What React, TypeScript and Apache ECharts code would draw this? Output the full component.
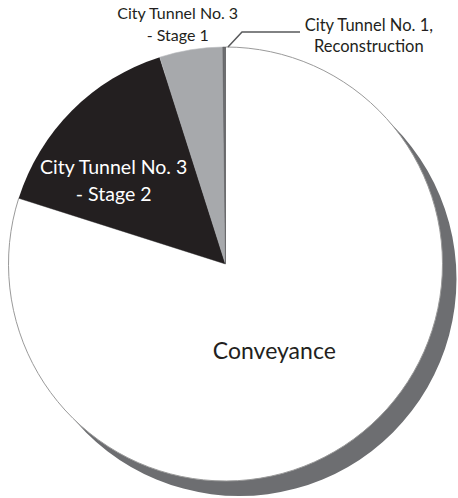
import React, { useEffect, useRef } from "react";
import * as echarts from "echarts";

const categories = [
  "Conveyance",
  "City Tunnel No. 3 - Stage 2",
  "City Tunnel No. 3 - Stage 1",
  "City Tunnel No. 1, Reconstruction",
];
const labelTexts = [
  "Conveyance",
  "City Tunnel No. 3\n- Stage 2",
  "City Tunnel No. 3\n- Stage 1",
  "City Tunnel No. 1,\nReconstruction",
];
const values = [79.9, 15.2, 4.7, 0.2];
const colors = ["#ffffff", "#231f20", "#a7a9ac", "#6d6e71"];

const FONT = "Lato, 'Open Sans', sans-serif";

export default function App() {
  const ref = useRef<HTMLDivElement>(null);
  useEffect(() => {
    if (!ref.current) return;
    const chart = echarts.init(ref.current, null, { renderer: "svg" });
    const cx = 225.5;
    const cy = 264;
    const r = 217;
    const labelCfg = [
      { offset: [-17, -4], color: "#231f20", fontSize: 23, lineHeight: 28 },
      { offset: [-33, -5], color: "#ffffff", fontSize: 19.5, lineHeight: 27 },
      { offset: [-30, -130], color: "#231f20", fontSize: 16, lineHeight: 22 },
      { offset: [144, -117], color: "#231f20", fontSize: 16.5, lineHeight: 21 },
    ];
    const borders = [
      { borderColor: "#9a9a9a", borderWidth: 1 },
      { borderColor: "#231f20", borderWidth: 0 },
      { borderColor: "#b8babd", borderWidth: 0.6 },
      { borderColor: "#58595b", borderWidth: 0.5 },
    ];
    chart.setOption({
      animation: false,
      backgroundColor: "#ffffff",
      series: [
        {
          type: "pie",
          silent: true,
          center: [cx + 14, cy + 15],
          radius: r,
          startAngle: 90,
          label: { show: false },
          labelLine: { show: false },
          data: [{ value: 1, name: "shadow", itemStyle: { color: "#6d6e71" } }],
          z: 1,
        },
        {
          type: "pie",
          center: [cx, cy],
          radius: r,
          startAngle: 90,
          clockwise: true,
          avoidLabelOverlap: false,
          labelLine: { show: false },
          z: 2,
          data: categories.map((name, i) => ({
            name,
            value: values[i],
            itemStyle: { color: colors[i], ...borders[i] },
            label: {
              show: true,
              position: "inside",
              formatter: () => labelTexts[i],
              offset: labelCfg[i].offset,
              color: labelCfg[i].color,
              fontSize: labelCfg[i].fontSize,
              lineHeight: labelCfg[i].lineHeight,
              fontFamily: FONT,
              align: "center",
              textBorderWidth: 0,
            },
          })),
        },
      ],
      graphic: [
        {
          type: "polyline",
          shape: { points: [[228, 47], [242, 32], [300, 32]] },
          style: { stroke: "#58595b", lineWidth: 1.5, fill: "none" },
          z: 10,
        },
      ],
    });
    return () => chart.dispose();
  }, []);
  return (
    <div
      ref={ref}
      style={{ position: "absolute", left: 0, top: 0, width: 458, height: 498 }}
    />
  );
}
